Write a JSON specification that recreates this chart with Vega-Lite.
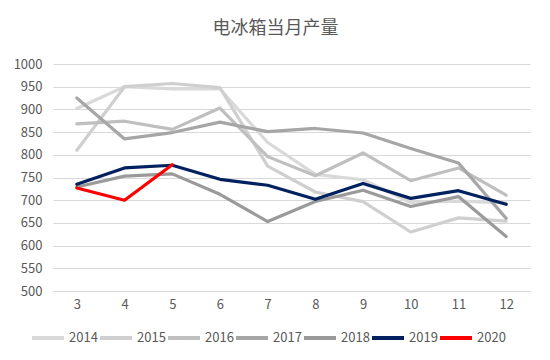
{
  "$schema": "https://vega.github.io/schema/vega-lite/v6.json",
  "autosize": "none",
  "width": 477,
  "height": 227,
  "padding": {"left": 53, "top": 64, "right": 20, "bottom": 69},
  "background": "white",
  "title": {
    "text": "电冰箱当月产量",
    "font": "Noto Sans CJK SC",
    "fontSize": 18,
    "fontWeight": "normal",
    "color": "#595959",
    "offset": 20,
    "dx": -16
  },
  "data": {
    "values": [
      {"year": "2014", "month": 3, "value": 902}, {"year": "2014", "month": 4, "value": 950}, {"year": "2014", "month": 5, "value": 945}, {"year": "2014", "month": 6, "value": 945}, {"year": "2014", "month": 7, "value": 827}, {"year": "2014", "month": 8, "value": 757}, {"year": "2014", "month": 9, "value": 745}, {"year": "2014", "month": 10, "value": 695}, {"year": "2014", "month": 11, "value": 698}, {"year": "2014", "month": 12, "value": 694},
      {"year": "2015", "month": 3, "value": 810}, {"year": "2015", "month": 4, "value": 950}, {"year": "2015", "month": 5, "value": 957}, {"year": "2015", "month": 6, "value": 948}, {"year": "2015", "month": 7, "value": 775}, {"year": "2015", "month": 8, "value": 718}, {"year": "2015", "month": 9, "value": 697}, {"year": "2015", "month": 10, "value": 630}, {"year": "2015", "month": 11, "value": 661}, {"year": "2015", "month": 12, "value": 654},
      {"year": "2016", "month": 3, "value": 868}, {"year": "2016", "month": 4, "value": 874}, {"year": "2016", "month": 5, "value": 856}, {"year": "2016", "month": 6, "value": 903}, {"year": "2016", "month": 7, "value": 796}, {"year": "2016", "month": 8, "value": 754}, {"year": "2016", "month": 9, "value": 804}, {"year": "2016", "month": 10, "value": 743}, {"year": "2016", "month": 11, "value": 771}, {"year": "2016", "month": 12, "value": 711},
      {"year": "2017", "month": 3, "value": 925}, {"year": "2017", "month": 4, "value": 835}, {"year": "2017", "month": 5, "value": 849}, {"year": "2017", "month": 6, "value": 872}, {"year": "2017", "month": 7, "value": 851}, {"year": "2017", "month": 8, "value": 858}, {"year": "2017", "month": 9, "value": 848}, {"year": "2017", "month": 10, "value": 814}, {"year": "2017", "month": 11, "value": 782}, {"year": "2017", "month": 12, "value": 660},
      {"year": "2018", "month": 3, "value": 729}, {"year": "2018", "month": 4, "value": 753}, {"year": "2018", "month": 5, "value": 758}, {"year": "2018", "month": 6, "value": 713}, {"year": "2018", "month": 7, "value": 653}, {"year": "2018", "month": 8, "value": 697}, {"year": "2018", "month": 9, "value": 722}, {"year": "2018", "month": 10, "value": 686}, {"year": "2018", "month": 11, "value": 708}, {"year": "2018", "month": 12, "value": 620},
      {"year": "2019", "month": 3, "value": 735}, {"year": "2019", "month": 4, "value": 771}, {"year": "2019", "month": 5, "value": 777}, {"year": "2019", "month": 6, "value": 746}, {"year": "2019", "month": 7, "value": 733}, {"year": "2019", "month": 8, "value": 702}, {"year": "2019", "month": 9, "value": 737}, {"year": "2019", "month": 10, "value": 704}, {"year": "2019", "month": 11, "value": 721}, {"year": "2019", "month": 12, "value": 691},
      {"year": "2020", "month": 3, "value": 727}, {"year": "2020", "month": 4, "value": 700}, {"year": "2020", "month": 5, "value": 778}
    ]
  },
  "mark": {"type": "line", "strokeWidth": 3.2, "strokeJoin": "round", "strokeCap": "round"},
  "encoding": {
    "x": {
      "field": "month",
      "type": "ordinal",
      "scale": {"padding": 0.5},
      "axis": {
        "title": null,
        "labelAngle": 0,
        "domain": false,
        "ticks": false,
        "labelPadding": 7,
        "labelFont": "Noto Sans CJK SC",
        "labelFontSize": 13,
        "labelColor": "#595959"
      }
    },
    "y": {
      "field": "value",
      "type": "quantitative",
      "scale": {"domain": [500, 1000], "nice": false, "zero": false},
      "axis": {
        "title": null,
        "values": [500, 550, 600, 650, 700, 750, 800, 850, 900, 950, 1000],
        "format": "d",
        "domain": false,
        "ticks": false,
        "labelPadding": 11,
        "labelFont": "Noto Sans CJK SC",
        "labelFontSize": 13,
        "labelColor": "#595959",
        "gridColor": "#d9d9d9",
        "gridWidth": 1
      }
    },
    "color": {
      "field": "year",
      "type": "nominal",
      "scale": {
        "domain": ["2014", "2015", "2016", "2017", "2018", "2019", "2020"],
        "range": ["#d9d9d9", "#cfcfcf", "#bfbfbf", "#a6a6a6", "#9a9a9a", "#002060", "#ff0000"]
      },
      "legend": {
        "title": null,
        "orient": "none",
        "direction": "horizontal",
        "legendX": -23,
        "legendY": 256,
        "symbolType": "stroke",
        "symbolSize": 1024,
        "symbolStrokeWidth": 4,
        "labelOffset": 3,
        "columnPadding": -8,
        "labelFont": "Noto Sans CJK SC",
        "labelFontSize": 13,
        "labelColor": "#595959"
      }
    }
  },
  "config": {
    "view": {"stroke": null}
  }
}
